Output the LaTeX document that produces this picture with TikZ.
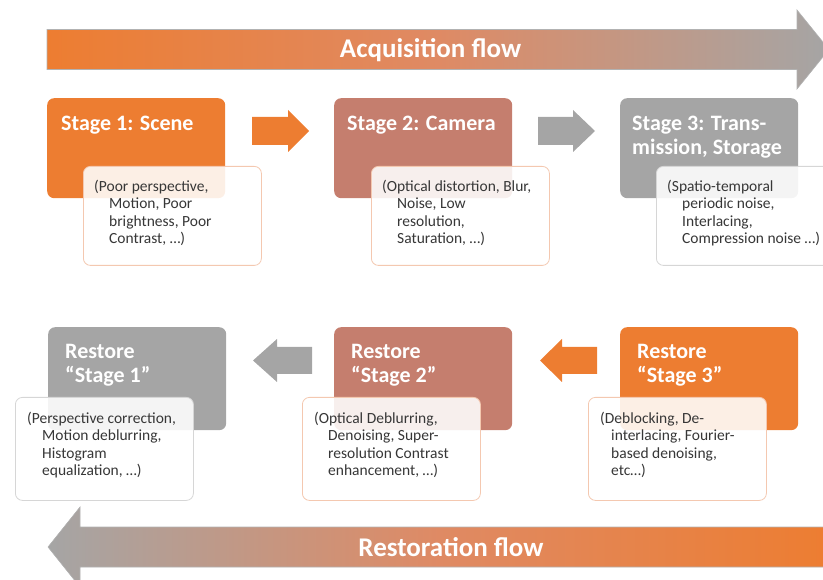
\documentclass[tikz,border=0pt]{standalone}
\usepackage{fontspec}
\setmainfont{Carlito}
\definecolor{cOr}{RGB}{237,125,49}
\definecolor{cRu}{RGB}{197,126,110}
\definecolor{cGr}{RGB}{165,165,165}
\definecolor{cTx}{RGB}{55,55,55}
\definecolor{cBo}{RGB}{244,200,176}
\definecolor{cBg}{RGB}{214,214,214}
\definecolor{cMid}{RGB}{223,138,100}
\pgfdeclarehorizontalshading{acqshade}{100bp}{color(0bp)=(cOr); color(25bp)=(cOr); color(50bp)=(cMid); color(75bp)=(cGr); color(100bp)=(cGr)}
\pgfdeclarehorizontalshading{resshade}{100bp}{color(0bp)=(cGr); color(25bp)=(cGr); color(50bp)=(cMid); color(75bp)=(cOr); color(100bp)=(cOr)}
\begin{document}
\begin{tikzpicture}[x=1pt,y=-1pt,
  stagebox/.style={rounded corners=7pt, inner sep=0pt, minimum width=178pt, minimum height=100pt, anchor=north west, draw=none},
  notebox/.style={rounded corners=7pt, fill=white, fill opacity=0.88, line width=0.8pt, minimum width=178pt, minimum height=99pt, anchor=north west, inner sep=0pt},
  titletext/.style={anchor=north west, inner sep=0pt, align=left, text=white, font={\fontsize{22}{24}\selectfont\bfseries}},
  notetext/.style={anchor=north west, inner sep=0pt, align=left, text=cTx, font={\fontsize{15.5}{17.4}\selectfont}},
  flowtext/.style={inner sep=0pt, text=white, font={\fontsize{27}{30}\selectfont\bfseries}},
  flowline/.style={draw=black!30, line width=0.6pt}
]
\useasboundingbox (0,0) rectangle (823,580);
\clip (0,0) rectangle (823,580);

% acquisition flow arrow
\shadedraw[shading=acqshade, flowline] (47,29.5) -- (797,29.5) -- (797,10) -- (829,49.5) -- (797,89) -- (797,69.5) -- (47,69.5) -- cycle;
\node[flowtext] (acq) at (430.5,50) {Acquisition flow};

% restoration flow arrow
\shadedraw[shading=resshade, flowline] (48,547) -- (80,507) -- (80,527) -- (830,527) -- (830,567) -- (80,567) -- (80,587) -- cycle;
\node[flowtext] (res) at (451,547) {Restoration flow};

% top stage boxes
\node[stagebox, fill=cOr] (s1) at (47,98) {};
\node[stagebox, fill=cRu] (s2) at (334,98) {};
\node[stagebox, fill=cGr] (s3) at (620,98) {};
\node[titletext] (t1) at ([xshift=14pt,yshift=-18pt]s1.north west) {Stage 1: Scene};
\node[titletext] (t2) at ([xshift=13pt,yshift=-18pt]s2.north west) {Stage 2: Camera};
\node[titletext] (t3) at ([xshift=12pt,yshift=-18pt]s3.north west) {Stage 3: Trans-\\mission, Storage};

% top note boxes
\node[notebox, draw=cBo] (w1) at (83,166) {};
\node[notebox, draw=cBo] (w2) at (371,166) {};
\node[notebox, draw=cBg] (w3) at (656,166) {};
\node[notetext] (n1) at ([xshift=11pt,yshift=-14pt]w1.north west) {(Poor perspective,\\\hspace*{15pt}Motion, Poor\\\hspace*{15pt}brightness, Poor\\\hspace*{15pt}Contrast, …)};
\node[notetext] (n2) at ([xshift=11pt,yshift=-14pt]w2.north west) {(Optical distortion, Blur,\\\hspace*{15pt}Noise, Low\\\hspace*{15pt}resolution,\\\hspace*{15pt}Saturation, …)};
\node[notetext] (n3) at ([xshift=11pt,yshift=-14pt]w3.north west) {(Spatio-temporal\\\hspace*{15pt}periodic noise,\\\hspace*{15pt}Interlacing,\\\hspace*{15pt}Compression noise …)};

% top small arrows
\fill[cOr] (252,117) -- (288,117) -- (288,110) -- (309,131) -- (288,152) -- (288,145) -- (252,145) -- cycle;
\fill[cGr] (538,117) -- (573,117) -- (573,110) -- (595,131) -- (573,152) -- (573,145) -- (538,145) -- cycle;

% bottom restore boxes
\node[stagebox, fill=cGr, minimum height=103pt] (r1) at (48,327) {};
\node[stagebox, fill=cRu, minimum height=103pt] (r2) at (334,327) {};
\node[stagebox, fill=cOr, minimum height=103pt] (r3) at (620,327) {};
\node[titletext] (u1) at ([xshift=17pt,yshift=-17pt]r1.north west) {Restore\\“Stage 1”};
\node[titletext] (u2) at ([xshift=17pt,yshift=-17pt]r2.north west) {Restore\\“Stage 2”};
\node[titletext] (u3) at ([xshift=17pt,yshift=-17pt]r3.north west) {Restore\\“Stage 3”};

% bottom note boxes
\node[notebox, draw=cBg, minimum height=103pt] (v1) at (15,397) {};
\node[notebox, draw=cBo, minimum height=103pt] (v2) at (302,397) {};
\node[notebox, draw=cBo, minimum height=103pt] (v3) at (588,397) {};
\node[notetext] (m1) at ([xshift=12pt,yshift=-15pt]v1.north west) {(Perspective correction,\\\hspace*{15pt}Motion deblurring,\\\hspace*{15pt}Histogram\\\hspace*{15pt}equalization, …)};
\node[notetext] (m2) at ([xshift=12pt,yshift=-15pt]v2.north west) {(Optical Deblurring,\\\hspace*{14pt}Denoising, Super-\\\hspace*{14pt}resolution Contrast\\\hspace*{14pt}enhancement, …)};
\node[notetext] (m3) at ([xshift=12pt,yshift=-15pt]v3.north west) {(Deblocking, De-\\\hspace*{11pt}interlacing, Fourier-\\\hspace*{11pt}based denoising,\\\hspace*{11pt}etc…)};

% bottom small arrows
\fill[cGr] (253,360.5) -- (277,339) -- (277,347) -- (312,347) -- (312,374) -- (277,374) -- (277,382) -- cycle;
\fill[cOr] (540,360.5) -- (562,339) -- (562,347) -- (597,347) -- (597,374) -- (562,374) -- (562,382) -- cycle;
\end{tikzpicture}
\end{document}
